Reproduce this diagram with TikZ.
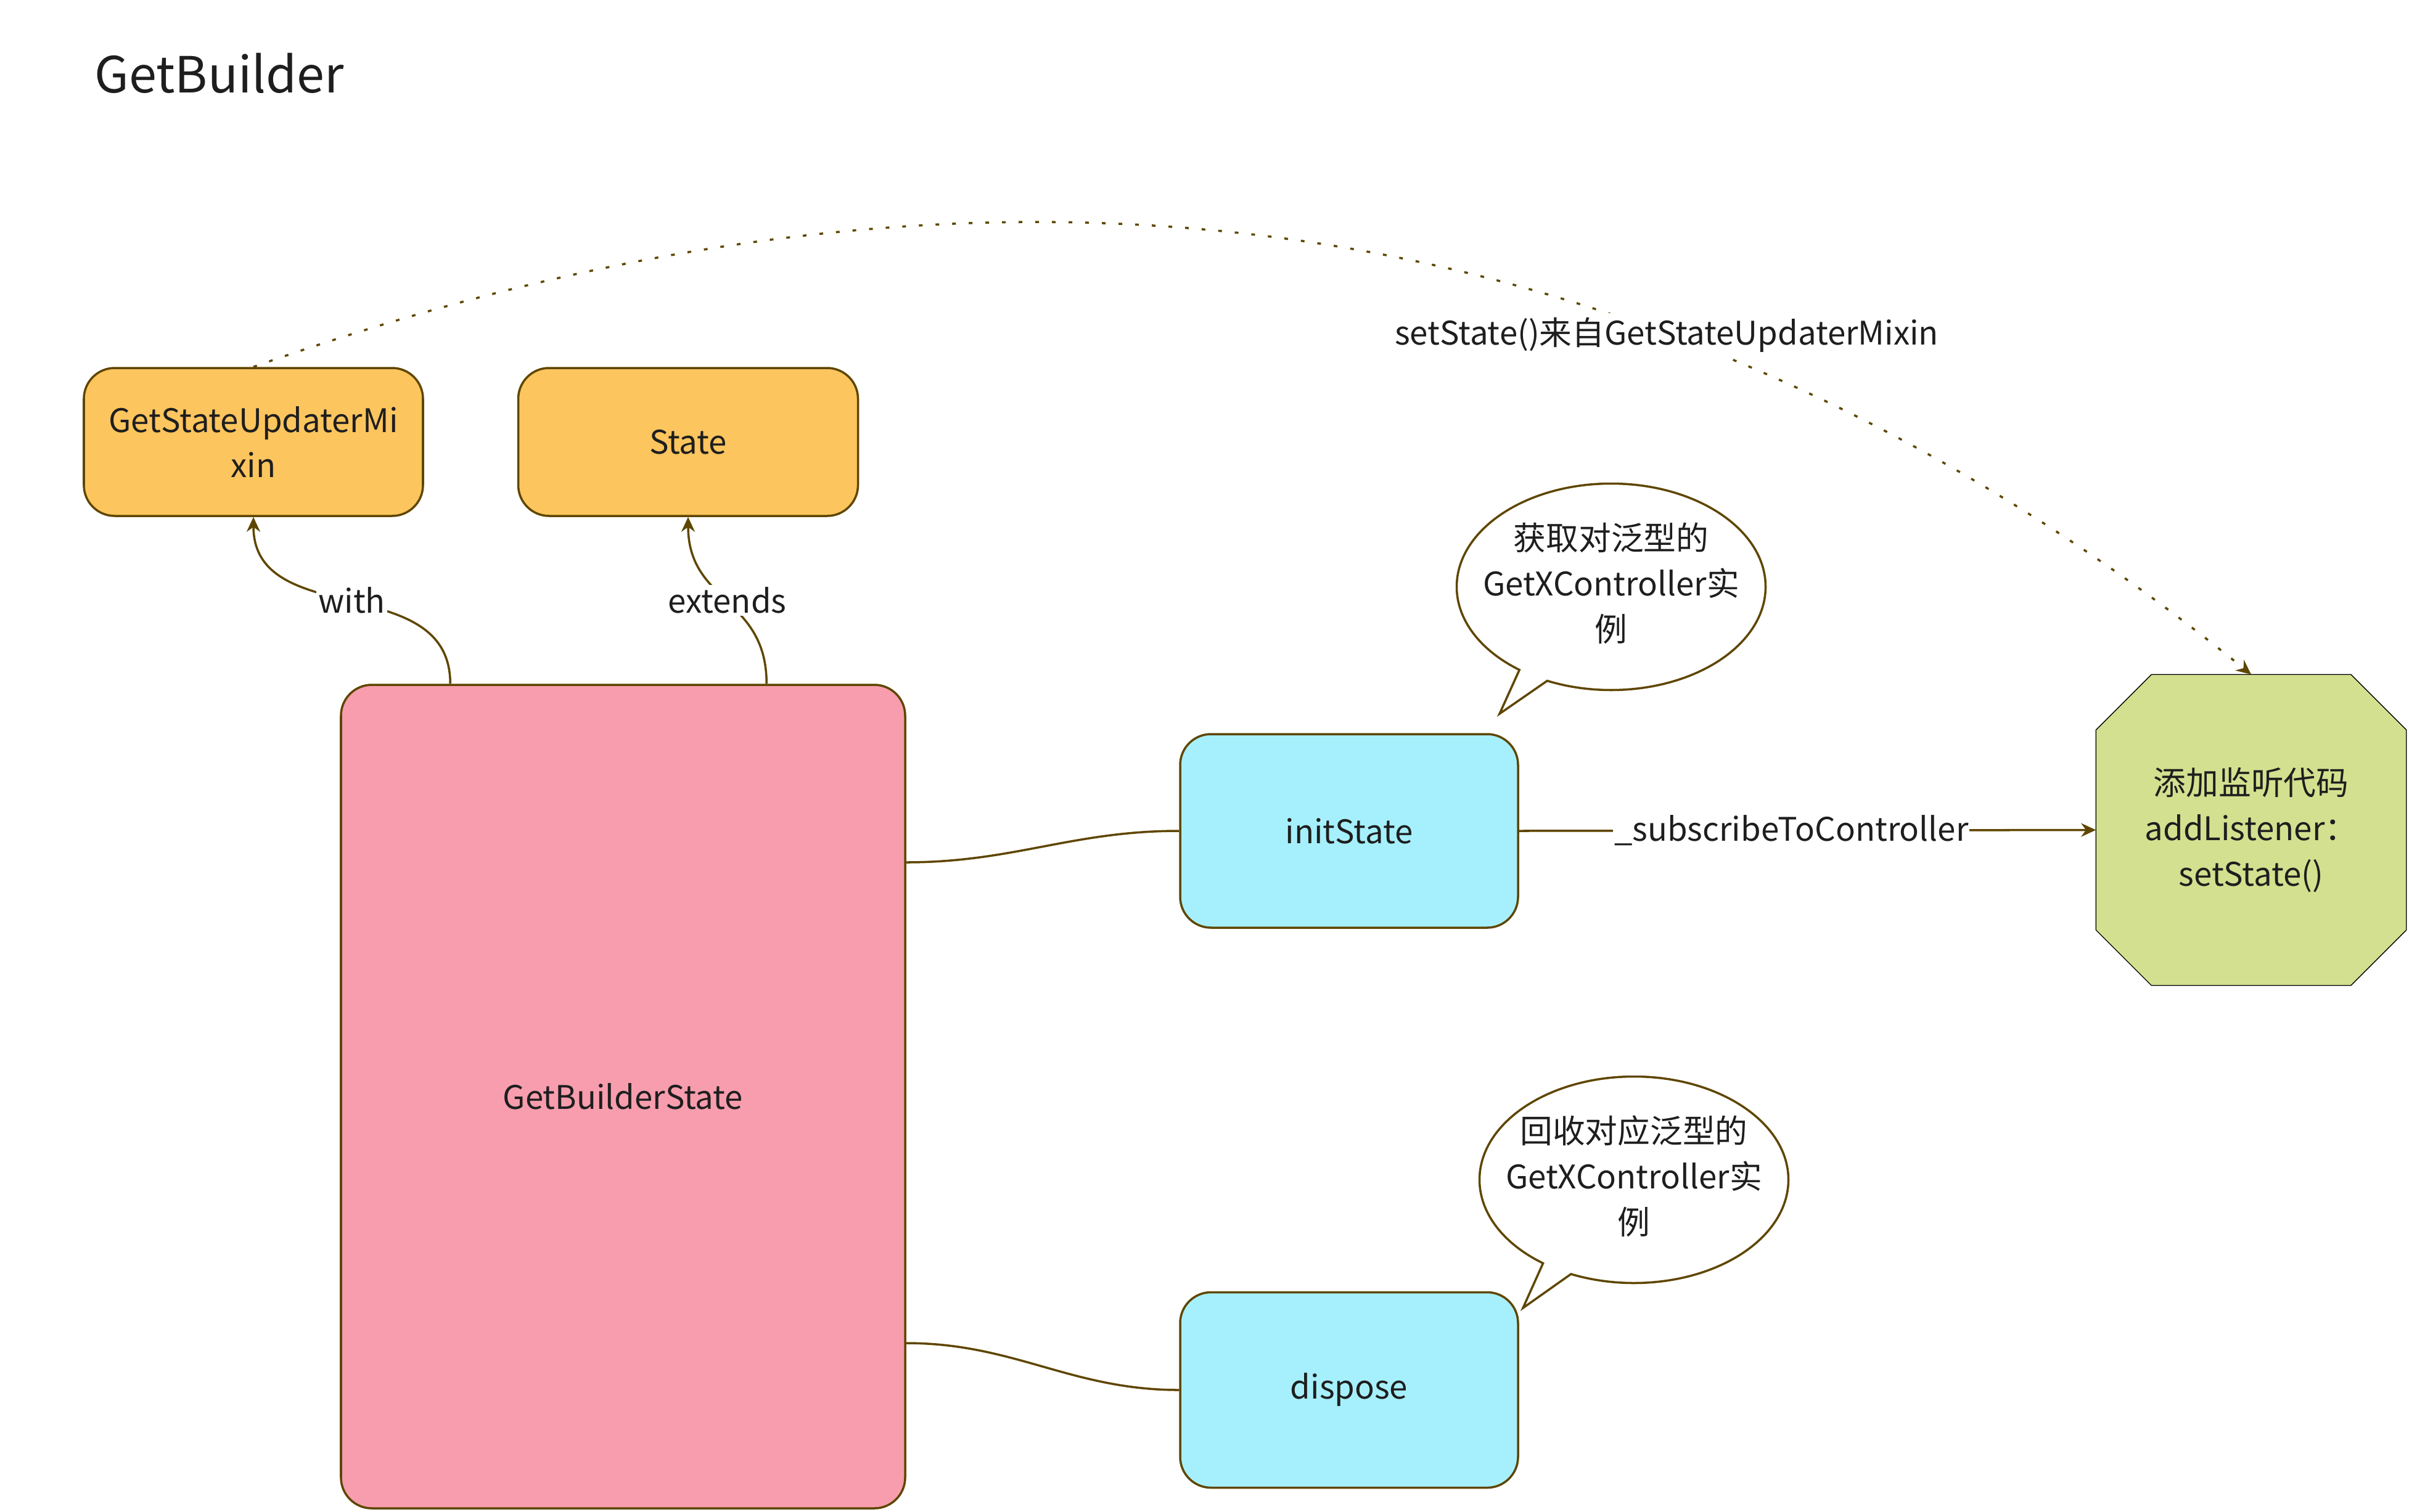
\documentclass[tikz,border=0pt]{standalone}
\usepackage{fontspec}
\setmainfont{Noto Sans CJK SC}
\usetikzlibrary{positioning,shapes.callouts,arrows.meta,backgrounds}
\definecolor{brd}{RGB}{95,70,0}
\definecolor{txt}{RGB}{30,30,30}
\definecolor{orangebox}{RGB}{253,197,94}
\definecolor{pinkbox}{RGB}{247,157,174}
\definecolor{cyanbox}{RGB}{166,240,253}
\definecolor{greenbox}{RGB}{211,224,143}
\newcommand{\bubbletext}[1]{\makebox[1cm]{\begin{tabular}{@{}c@{}}#1\end{tabular}}}
\begin{document}
\begin{tikzpicture}[line width=1pt, color=brd, >={Stealth[length=0.24cm,width=0.22cm]},
        every node/.style = {text=txt, font=\fontsize{15pt}{21pt}\selectfont},
        main/.style = {draw=brd, rounded corners=0.5cm, align=center, inner sep=0pt},
        bubble/.style = {ellipse callout, draw=brd, fill=white, inner sep=0pt, minimum width=5.01cm, minimum height=3.35cm, callout pointer arc=12},
        lbl/.style = {fill=white, inner sep=1pt}]
            \useasboundingbox (0,0) rectangle (39.07,-24.53);
            \node[anchor=base west, inner sep=0pt, font=\fontsize{23pt}{28pt}\selectfont] (0) at (1.52,-1.50) {GetBuilder};

            \node[main, fill=orangebox, minimum width=5.5cm, minimum height=2.4cm] (1) at (4.11,-7.17) {GetStateUpdaterMi\\xin};
            \node[main, fill=orangebox, minimum width=5.51cm, minimum height=2.4cm] (2) [right=1.51cm of 1] {State};
            \node[main, fill=pinkbox, minimum width=9.15cm, minimum height=13.36cm] (3) at (10.105,-17.79) {GetBuilderState};
            \node[main, fill=cyanbox, minimum width=5.48cm, minimum height=3.14cm] (4) at (21.88,-13.48) {initState};
            \node[main, fill=cyanbox, minimum width=5.48cm, minimum height=3.17cm] (5) [below=5.88cm of 4] {dispose};
            \node[align=center, inner sep=0pt, minimum width=5cm, minimum height=5.01cm] (6) at (36.51,-13.465) {添加监听代码\\addListener：\\setState()};
            \begin{scope}[on background layer]
                \draw[fill=greenbox] ([xshift=0.9cm]6.north west) -- ([xshift=-0.9cm]6.north east) -- ([yshift=-0.9cm]6.north east) -- ([yshift=0.9cm]6.south east)
                    -- ([xshift=-0.9cm]6.south east) -- ([xshift=0.9cm]6.south west) -- ([yshift=0.9cm]6.south west) -- ([yshift=-0.9cm]6.north west) -- cycle;
            \end{scope}
            \node[bubble, callout absolute pointer={(24.32,-11.58)}] (7) at (26.13,-9.52) {\bubbletext{获取对泛型的\\GetXController实\\例}};
            \node[bubble, callout absolute pointer={(24.70,-21.22)}] (8) at (26.50,-19.14) {\bubbletext{回收对应泛型的\\GetXController实\\例}};

            \draw[->] ([xshift=1.79cm]3.north west) to[out=90, in=-90, looseness=1.13] node[lbl] {with} (1.south);
            \draw[->] ([xshift=6.92cm]3.north west) to[out=90, in=-90, looseness=1.2] node[lbl] {extends} (2.south);
            \draw ([yshift=3.8cm]3.east) to[out=0, in=180] (4.west);
            \draw ([yshift=-4cm]3.east) to[out=0, in=180] (5.west);
            \draw[->] (4.east) -- node[lbl, inner sep=0.5pt, pos=0.472] {\_subscribeToController} (6.west);
            \draw[->, dash pattern=on 0.06cm off 0.21cm] (1.north) .. controls (12.5,-3.0) and (24.5,-1.2) .. (6.north)
                node[lbl, inner sep=2pt, pos=0.735] {setState()来自GetStateUpdaterMixin};
        \end{tikzpicture}
\end{document}
